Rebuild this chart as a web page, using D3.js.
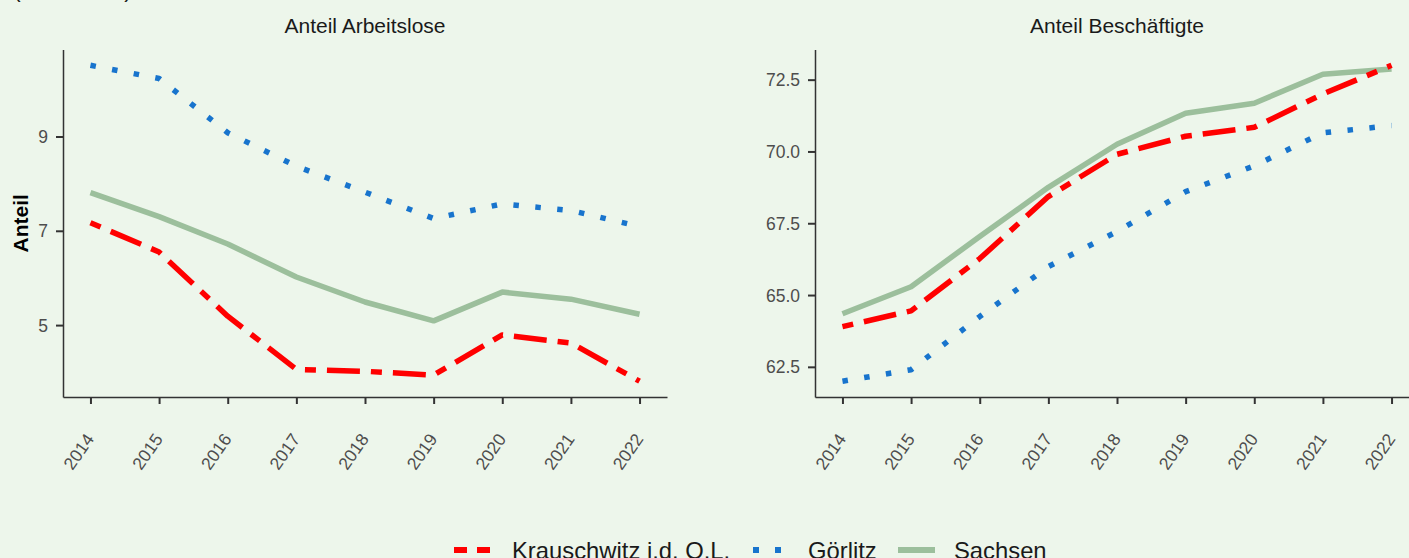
<!DOCTYPE html>
<html>
<head>
<meta charset="utf-8">
<script src="https://cdn.jsdelivr.net/npm/d3@7"></script>
<style>
  body { margin: 0; background: #edf6eb; }
  svg { display: block; font-family: "Liberation Sans", Arial, sans-serif; }
</style>
</head>
<body>
<div id="chart"></div>
<script>
const years = [2014, 2015, 2016, 2017, 2018, 2019, 2020, 2021, 2022];
const regions = ['Krauschwitz i.d. O.L.', 'Görlitz', 'Sachsen'];

// Anteil Arbeitslose
const alKrauschwitz = [7.17, 6.55, 5.19, 4.06, 4.02, 3.94, 4.79, 4.62, 3.81];
const alGoerlitz = [10.51, 10.23, 9.08, 8.37, 7.82, 7.26, 7.57, 7.43, 7.09];
const alSachsen = [7.81, 7.30, 6.72, 6.02, 5.49, 5.09, 5.70, 5.55, 5.23];

// Anteil Beschäftigte
const bsKrauschwitz = [63.90, 64.45, 66.27, 68.43, 69.90, 70.53, 70.84, 72.00, 73.00];
const bsGoerlitz = [62.00, 62.40, 64.25, 65.99, 67.21, 68.60, 69.50, 70.65, 70.90];
const bsSachsen = [64.35, 65.29, 67.04, 68.75, 70.25, 71.33, 71.68, 72.69, 72.87];

const alTicks = [5, 7, 9];
const bsTicks = [62.5, 65, 67.5, 70, 72.5];

const width = 1409, height = 558;
const unit = 5.5;
const styles = {
    'Krauschwitz i.d. O.L.': { color: '#ff0000', dash: [2, 2, 6, 2].map(d => d * unit).join(','), key: '13,10' },
    'Görlitz': { color: '#1874cd', dash: [1, 3].map(d => d * unit).join(','), key: '6,16' },
    'Sachsen': { color: '#9cbf9c', dash: null, key: null }
};

const svg = d3.select('#chart').append('svg')
    .attr('width', width)
    .attr('height', height);

svg.append('rect').attr('width', width).attr('height', height).attr('fill', '#edf6eb');

// cropped subtitle at the very top
svg.append('text')
    .attr('x', 13)
    .attr('y', -3)
    .attr('font-size', 23)
    .attr('fill', '#1a1a1a')
    .text('(in Prozent)');

const plotTop = 49.5, plotBottom = 397, panelW = 604;

function drawPanel(x0, title, series, ticks, fmt) {
    const g = svg.append('g');

    const x = d3.scaleLinear()
        .domain([years[0] - 0.4, years[years.length - 1] + 0.4])
        .range([x0, x0 + panelW]);

    const all = series.flatMap(s => s.values);
    const [lo, hi] = d3.extent(all);
    const pad = (hi - lo) * 0.05;
    const y = d3.scaleLinear().domain([lo - pad, hi + pad]).range([plotBottom, plotTop]);

    // title
    g.append('text')
        .attr('x', x0 + panelW / 2)
        .attr('y', 33)
        .attr('text-anchor', 'middle')
        .attr('font-size', 21)
        .attr('fill', '#1a1a1a')
        .text(title);

    // lines
    const line = d3.line()
        .x((d, i) => x(years[i]))
        .y(d => y(d));

    series.forEach(s => {
        const st = styles[s.name];
        g.append('path')
            .datum(s.values)
            .attr('d', line)
            .attr('fill', 'none')
            .attr('stroke', st.color)
            .attr('stroke-width', 5.5)
            .attr('stroke-linejoin', 'round')
            .attr('stroke-linecap', 'butt')
            .attr('stroke-dasharray', st.dash);
    });

    // y axis
    const yAxis = g.append('g')
        .attr('transform', `translate(${x0},0)`)
        .call(d3.axisLeft(y).tickValues(ticks).tickFormat(fmt).tickSize(7).tickSizeOuter(0).tickPadding(8));

    // x axis
    const xAxis = g.append('g')
        .attr('transform', `translate(0,${plotBottom})`)
        .call(d3.axisBottom(x).tickValues(years).tickFormat(d3.format('d')).tickSize(7).tickSizeOuter(0));

    [yAxis, xAxis].forEach(a => {
        a.select('.domain').attr('stroke', '#333').attr('stroke-width', 1.5);
        a.selectAll('.tick line').attr('stroke', '#333').attr('stroke-width', 2);
        a.selectAll('.tick text')
            .attr('fill', '#4d4d4d')
            .attr('font-size', 17.5)
            .attr('font-family', '"Liberation Sans", Arial, sans-serif');
    });

    yAxis.selectAll('.tick text').attr('dy', '0.35em');

    xAxis.selectAll('.tick text')
        .attr('text-anchor', 'end')
        .attr('x', 0)
        .attr('y', 0)
        .attr('dy', 0)
        .attr('transform', 'translate(4,42) rotate(-55)');
}

drawPanel(63, 'Anteil Arbeitslose', [
    { name: regions[2], values: alSachsen },
    { name: regions[0], values: alKrauschwitz },
    { name: regions[1], values: alGoerlitz }
], alTicks, d3.format('d'));

drawPanel(815, 'Anteil Beschäftigte', [
    { name: regions[2], values: bsSachsen },
    { name: regions[0], values: bsKrauschwitz },
    { name: regions[1], values: bsGoerlitz }
], bsTicks, d3.format('.1f'));

// y axis title
svg.append('text')
    .attr('transform', `translate(28,${(plotTop + plotBottom) / 2}) rotate(-90)`)
    .attr('text-anchor', 'middle')
    .attr('font-size', 21)
    .attr('font-weight', 'bold')
    .attr('fill', '#000')
    .text('Anteil');

// legend
const legendItems = [
    { name: regions[0], kx: 454, tx: 512 },
    { name: regions[1], kx: 753, tx: 808 },
    { name: regions[2], kx: 898, tx: 954 }
];
const legend = svg.append('g');
legendItems.forEach(item => {
    const st = styles[item.name];
    legend.append('line')
        .attr('x1', item.kx).attr('x2', item.kx + 37)
        .attr('y1', 550).attr('y2', 550)
        .attr('stroke', st.color)
        .attr('stroke-width', 6)
        .attr('stroke-dasharray', st.key);
    legend.append('text')
        .attr('x', item.tx)
        .attr('y', 558.5)
        .attr('font-size', 23.8)
        .attr('fill', '#1a1a1a')
        .text(item.name);
});
</script>
</body>
</html>
